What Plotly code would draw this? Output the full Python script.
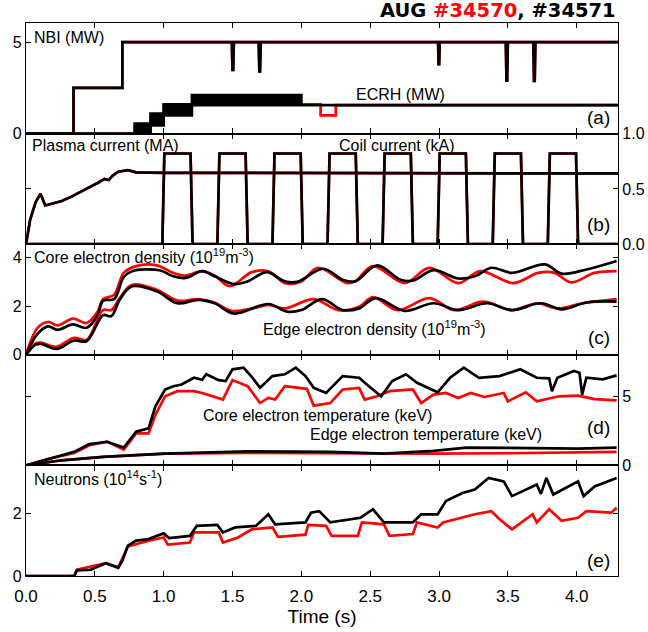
import plotly.graph_objects as go

# ---------------- data ----------------
# (a) NBI (MW) -- both shots identical
nbi_t = [0, 0.345, 0.345, 0.70, 0.70, 1.495, 1.50, 1.505, 1.51, 1.69, 1.695, 1.70, 1.705,
         2.993, 2.997, 3.001, 3.005, 3.485, 3.49, 3.495, 3.50, 3.685, 3.69, 3.695, 3.70, 4.3]
nbi = [0, 0, 2.5, 2.5, 5.0, 5.0, 3.48, 3.48, 5.0, 5.0, 3.4, 3.4, 5.0,
       5.0, 3.79, 3.79, 5.0, 5.0, 2.89, 2.89, 5.0, 5.0, 2.88, 2.88, 5.0, 5.0]

# (a) ECRH (MW): black shot modulated -> envelope; red shot plain
ecrh_b_up_t = [0, 0.79, 0.79, 0.905, 0.905, 1.0, 1.0, 1.205, 1.205, 2.0, 2.0, 4.3]
ecrh_b_up = [0, 0, 0.55, 0.55, 1.09, 1.09, 1.6, 1.6, 2.1, 2.1, 1.55, 1.55]
ecrh_b_lo_t = [0, 0.905, 0.905, 1.0, 1.0, 1.205, 1.205, 4.3]
ecrh_b_lo = [0, 0, 0.45, 0.45, 1.0, 1.0, 1.55, 1.55]
ecrh_r_t = [0, 0.79, 0.79, 0.905, 0.905, 1.0, 1.0, 1.205, 1.205, 2.14, 2.14, 2.25, 2.25, 4.3]
ecrh_r = [0, 0, 0.45, 0.45, 1.0, 1.0, 1.5, 1.5, 1.6, 1.6, 1.0, 1.0, 1.55, 1.55]

# (b) Plasma current (MA)
ip_t = [0, 0.03, 0.07, 0.105, 0.14, 0.2, 0.26, 0.33, 0.41, 0.47, 0.53, 0.57, 0.6, 0.63,
        0.67, 0.74, 0.8, 1.0, 4.3]
ip = [0, 0.22, 0.38, 0.456, 0.35, 0.37, 0.39, 0.43, 0.48, 0.52, 0.56, 0.59, 0.58, 0.62,
      0.655, 0.67, 0.65, 0.645, 0.64]

# (b) Coil current (kA)
coil_t = [0, 0.99, 1.005, 1.195, 1.21, 1.39, 1.405, 1.595, 1.61, 1.79, 1.805, 1.995, 2.01,
          2.19, 2.205, 2.395, 2.41, 2.59, 2.605, 2.795, 2.81, 2.99, 3.005, 3.195, 3.21,
          3.39, 3.405, 3.595, 3.61, 3.79, 3.805, 3.995, 4.01, 4.3]
coil = [0, 0, 0.82, 0.82, 0, 0, 0.82, 0.82, 0, 0, 0.82, 0.82, 0,
        0, 0.82, 0.82, 0, 0, 0.82, 0.82, 0, 0, 0.82, 0.82, 0,
        0, 0.82, 0.82, 0, 0, 0.82, 0.82, 0, 0]

# (c) Core electron density (1e19 m^-3)
nec_b_t = [0, 0.084, 0.16, 0.23, 0.34, 0.44, 0.52, 0.56, 0.64, 0.71, 0.77, 0.97, 1.07, 1.16,
           1.28, 1.37, 1.51, 1.61, 1.75, 1.88, 1.97, 2.16, 2.30, 2.39, 2.55, 2.72, 2.81,
           2.96, 3.14, 3.26, 3.38, 3.53, 3.77, 3.89, 4.07, 4.29]
nec_b = [0, 0.86, 1.17, 1.03, 1.25, 1.11, 1.63, 2.23, 2.29, 3.2, 3.44, 3.48, 3.23, 3.16,
         3.44, 3.23, 2.91, 3.02, 3.40, 3.02, 3.0, 3.54, 3.09, 3.02, 3.68, 3.09, 3.05,
         3.48, 3.14, 3.23, 3.58, 3.37, 3.72, 3.34, 3.51, 3.86]
nec_r_t = [0, 0.084, 0.16, 0.23, 0.34, 0.44, 0.52, 0.56, 0.64, 0.71, 0.80, 0.95, 1.07, 1.16,
           1.28, 1.37, 1.48, 1.64, 1.76, 1.88, 2.0, 2.12, 2.33, 2.39, 2.52, 2.75, 2.93,
           3.14, 3.30, 3.54, 3.72, 3.84, 3.96, 4.13, 4.29]
nec_r = [0, 1.11, 1.35, 1.21, 1.49, 1.31, 1.77, 2.29, 2.47, 3.37, 3.65, 3.68, 3.37, 3.26,
         3.44, 3.26, 2.82, 3.40, 3.44, 2.95, 3.02, 3.58, 2.95, 3.02, 3.65, 2.95, 3.58,
         2.95, 3.44, 2.95, 3.37, 3.37, 2.98, 3.37, 3.44]

# (c) Edge electron density
nee_b_t = [0, 0.07, 0.11, 0.22, 0.35, 0.44, 0.56, 0.62, 0.68, 0.77, 0.95, 1.10, 1.25, 1.37,
           1.51, 1.76, 1.90, 2.0, 2.15, 2.30, 2.42, 2.54, 2.75, 2.96, 3.14, 3.35, 3.53,
           3.74, 3.89, 4.07, 4.29]
nee_b = [0, 0.42, 0.45, 0.24, 0.59, 0.56, 1.63, 1.59, 2.26, 2.82, 2.61, 2.12, 2.26, 2.12,
         1.70, 2.09, 1.77, 1.84, 2.29, 1.84, 1.91, 2.33, 1.81, 2.12, 1.84, 2.12, 1.84,
         2.12, 1.87, 2.15, 2.19]
nee_r_t = [0, 0.07, 0.11, 0.22, 0.35, 0.44, 0.56, 0.62, 0.68, 0.77, 0.95, 1.10, 1.25, 1.37,
           1.49, 1.70, 1.76, 1.88, 2.09, 2.27, 2.42, 2.52, 2.70, 2.93, 3.11, 3.32, 3.53,
           3.71, 3.86, 4.04, 4.29]
nee_r = [0, 0.47, 0.5, 0.33, 0.70, 0.61, 1.84, 1.84, 2.33, 2.88, 2.68, 2.23, 2.29, 2.15,
         1.81, 1.98, 2.05, 1.91, 2.29, 1.84, 1.98, 2.37, 1.84, 2.33, 1.84, 2.19, 1.84,
         2.12, 1.91, 2.12, 2.29]

# (d) Core electron temperature (keV)
tec_b_t = [0, 0.17, 0.35, 0.46, 0.59, 0.71, 0.80, 0.89, 0.94, 1.01, 1.07, 1.13, 1.22, 1.28,
           1.31, 1.40, 1.45, 1.50, 1.58, 1.64, 1.70, 1.79, 1.88, 1.96, 2.03, 2.09, 2.18,
           2.30, 2.42, 2.49, 2.58, 2.66, 2.76, 2.84, 2.99, 3.08, 3.18, 3.29, 3.44, 3.59,
           3.71, 3.80, 3.82, 3.86, 3.98, 4.02, 4.04, 4.07, 4.19, 4.29]
tec_b = [0, 0.49, 0.98, 1.54, 1.71, 1.29, 2.44, 2.68, 4.27, 5.49, 5.73, 5.85, 6.34, 6.2,
         6.59, 6.17, 6.1, 6.95, 7.07, 6.41, 5.61, 6.46, 6.59, 7.07, 6.46, 5.61, 5.24,
         6.46, 6.34, 5.73, 5.0, 6.1, 6.59, 5.98, 5.29, 6.34, 7.07, 6.34, 6.46, 6.95,
         6.34, 6.3, 5.37, 6.34, 6.83, 6.7, 5.12, 6.34, 6.22, 6.51]
tec_r_t = [0, 0.17, 0.35, 0.46, 0.59, 0.71, 0.80, 0.89, 0.94, 1.01, 1.10, 1.22, 1.28, 1.43,
           1.50, 1.61, 1.70, 1.76, 1.81, 1.88, 2.04, 2.09, 2.21, 2.30, 2.42, 2.46, 2.55,
           2.64, 2.81, 2.87, 2.96, 3.05, 3.14, 3.23, 3.33, 3.47, 3.50, 3.63, 3.71, 3.87,
           4.01, 4.13, 4.29]
tec_r = [0, 0.49, 0.9, 1.46, 1.71, 1.15, 2.32, 2.32, 3.66, 5.0, 5.37, 5.37, 5.24, 4.76,
         6.17, 5.73, 4.51, 4.88, 4.76, 5.73, 5.54, 4.32, 4.51, 5.49, 5.61, 4.76, 5.0,
         5.37, 5.49, 4.51, 5.12, 5.24, 4.88, 5.24, 4.95, 5.24, 4.63, 5.29, 4.63, 5.0,
         5.05, 4.8, 4.71]

# (d) Edge electron temperature (keV)
tee_b_t = [0, 0.26, 0.56, 1.01, 1.61, 2.21, 2.6, 2.96, 3.20, 3.71, 4.01, 4.29]
tee_b = [0, 0.37, 0.61, 0.85, 1.02, 0.98, 0.85, 1.05, 1.29, 1.22, 1.22, 1.29]
tee_r_t = [0, 0.26, 0.56, 1.01, 1.61, 2.21, 2.6, 2.96, 3.5, 4.29]
tee_r = [0, 0.37, 0.61, 0.85, 0.9, 0.88, 0.85, 0.85, 0.88, 0.98]

# (e) Neutrons (1e14 s^-1)
neu_b_t = [0, 0.35, 0.37, 0.47, 0.58, 0.67, 0.70, 0.74, 0.80, 0.89, 1.0, 1.04, 1.19, 1.24,
           1.39, 1.43, 1.52, 1.67, 1.76, 1.81, 2.03, 2.07, 2.13, 2.21, 2.43, 2.52, 2.60,
           2.81, 2.87, 2.99, 3.05, 3.17, 3.26, 3.36, 3.47, 3.53, 3.71, 3.74, 3.78, 3.83,
           4.01, 4.05, 4.13, 4.29]
neu_b = [0, 0, 0.18, 0.2, 0.41, 0.26, 0.49, 0.97, 1.13, 1.18, 1.36, 1.21, 1.28, 1.6,
         1.63, 1.39, 1.55, 1.6, 1.97, 1.65, 1.71, 2.02, 2.07, 1.71, 1.86, 2.13, 1.71,
         1.71, 1.97, 1.97, 2.39, 2.65, 2.76, 3.13, 3.02, 2.55, 2.92, 2.62, 3.13, 2.6,
         3.02, 2.55, 2.86, 3.13]
neu_r_t = [0, 0.35, 0.37, 0.58, 0.67, 0.74, 0.89, 1.0, 1.03, 1.19, 1.22, 1.40, 1.43, 1.54,
           1.64, 1.79, 1.83, 2.03, 2.05, 2.18, 2.22, 2.41, 2.44, 2.60, 2.64, 2.81, 2.84,
           2.99, 3.03, 3.26, 3.38, 3.44, 3.53, 3.68, 3.71, 3.80, 3.89, 4.01, 4.07, 4.25, 4.29]
neu_r = [0, 0, 0.2, 0.41, 0.28, 0.94, 1.13, 1.23, 1.0, 1.07, 1.39, 1.39, 1.07, 1.23,
         1.49, 1.55, 1.25, 1.32, 1.63, 1.6, 1.28, 1.28, 1.71, 1.65, 1.28, 1.34, 1.71,
         1.55, 1.71, 1.97, 2.07, 1.81, 1.49, 1.97, 1.71, 2.13, 1.76, 1.86, 2.07, 2.02, 2.18]

x_ticks = [0.0, 0.5, 1.0, 1.5, 2.0, 2.5, 3.0, 3.5, 4.0]

# ---------------- figure ----------------
W, H = 648, 632
ML, MR, MT, MB = 26, 30, 23, 56
PW, PH = W - ML - MR, H - MT - MB
RED, BLK = "#ff0000", "#000000"
LW = 2.7
FONT = "Liberation Sans, Arial, sans-serif"

fig = go.Figure()

def line(x, y, color, panel, shape="linear"):
    ax = "" if panel == 1 else str(panel)
    fig.add_trace(go.Scatter(x=x, y=y, mode="lines", xaxis="x" + ax, yaxis="y" + ax,
                             line=dict(color=color, width=LW, shape=shape),
                             showlegend=False, hoverinfo="skip"))

# panel 1 (a)
line(nbi_t, nbi, RED, 1)
line(nbi_t, nbi, BLK, 1)
line(ecrh_r_t, ecrh_r, RED, 1)
fig.add_trace(go.Scatter(x=ecrh_b_up_t + ecrh_b_lo_t[::-1], y=ecrh_b_up + ecrh_b_lo[::-1],
                         mode="lines", fill="toself", fillcolor=BLK,
                         line=dict(color=BLK, width=LW), xaxis="x", yaxis="y",
                         showlegend=False, hoverinfo="skip"))
# panel 2 (b)
line(ip_t, ip, RED, 2)
line(ip_t, ip, BLK, 2)
line(coil_t, coil, RED, 2)
line(coil_t, coil, BLK, 2)
# panel 3 (c)
line(nec_r_t, nec_r, RED, 3, "spline")
line(nec_b_t, nec_b, BLK, 3, "spline")
line(nee_r_t, nee_r, RED, 3, "spline")
line(nee_b_t, nee_b, BLK, 3, "spline")
# panel 4 (d)
line(tec_r_t, tec_r, RED, 4)
line(tec_b_t, tec_b, BLK, 4)
line(tee_r_t, tee_r, RED, 4)
line(tee_b_t, tee_b, BLK, 4)
# panel 5 (e)
line(neu_r_t, neu_r, RED, 5)
line(neu_b_t, neu_b, BLK, 5)

common = dict(showline=True, linecolor="black", linewidth=1.3, mirror="allticks",
              ticks="inside", ticklen=5, tickwidth=1.2, tickcolor="black",
              showgrid=False, zeroline=False, automargin=False,
              tickfont=dict(family=FONT, size=16, color="black"))

n = 5
layout = dict(width=W, height=H, autosize=False,
              margin=dict(l=ML, r=MR, t=MT, b=MB, pad=0, autoexpand=False),
              paper_bgcolor="white", plot_bgcolor="white",
              font=dict(family=FONT, size=16, color="black"))

yspecs = [
    dict(range=[0, 6.04], tickvals=[0, 5], ticktext=["0", "5"], side="left"),
    dict(range=[0, 1.0], tickvals=[0, 0.5, 1.0], ticktext=["0.0", "0.5", "1.0"], side="right"),
    dict(range=[0, 4.55], tickvals=[0, 2, 4], ticktext=["0", "2", "4"], side="left"),
    dict(range=[0, 8.0], tickvals=[0, 5], ticktext=["0", "5"], side="right"),
    dict(range=[0, 3.53], tickvals=[0, 2], ticktext=["0", "2"], side="left"),
]
for i in range(n):
    k = i + 1
    sx = "" if k == 1 else str(k)
    top = 1 - i / n
    bot = 1 - (i + 1) / n
    layout["xaxis" + sx] = dict(common, range=[0, 4.3], tickvals=x_ticks,
                                ticktext=["%.1f" % v for v in x_ticks],
                                showticklabels=(k == n), anchor="y" + sx,
                                domain=[0, 1])
    layout["yaxis" + sx] = dict(common, domain=[bot, top], anchor="x" + sx, **yspecs[i])

layout["xaxis5"]["ticklabelstandoff"] = 4
layout["xaxis5"]["tickfont"] = dict(family=FONT, size=17, color="black")
layout["xaxis5"]["title"] = dict(text="Time (s)", font=dict(family=FONT, size=19), standoff=1)

fig.update_layout(**layout)

def px(xp, yp):
    return (xp - ML) / PW, (H - MB - yp) / PH

def label(text, xp, yp, size=16, anchor="left"):
    x, y = px(xp, yp)
    fig.add_annotation(text=text, x=x, y=y, xref="paper", yref="paper",
                       xanchor=anchor, yanchor="middle", showarrow=False,
                       font=dict(family=FONT, size=size, color="black"))

label("NBI (MW)", 32, 37)
label("ECRH (MW)", 354, 94)
label("(a)", 612, 117, 19, "right")
label("Plasma current (MA)", 30, 145)
label("Coil current (kA)", 337, 145)
label("(b)", 612, 224, 19, "right")
label("Core electron density (10<sup>19</sup>m<sup>-3</sup>)", 32, 256)
label("Edge electron density (10<sup>19</sup>m<sup>-3</sup>)", 261, 328)
label("(c)", 612, 338, 19, "right")
label("Core electron temperature (keV)", 201, 415)
label("Edge electron temperature (keV)", 308, 435)
label("(d)", 612, 427, 19, "right")
label("Neutrons (10<sup>14</sup>s<sup>-1</sup>)", 32, 478)
label("(e)", 612, 560, 19, "right")

tx, ty = px(618, 11)
fig.add_annotation(text="<b>AUG <span style='color:#ff0000'>#34570</span>, #34571</b>",
                   x=tx, y=ty, xref="paper", yref="paper", xanchor="right", yanchor="middle",
                   showarrow=False,
                   font=dict(family="DejaVu Sans, Verdana, sans-serif", size=19.5, color="black"))

fig.write_html("out.html")
